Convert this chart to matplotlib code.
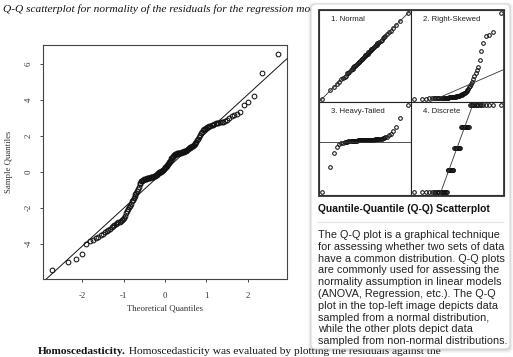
import matplotlib
matplotlib.use('Agg')
import matplotlib.pyplot as plt
import numpy as np
from statistics import NormalDist
from matplotlib.patches import FancyBboxPatch, Rectangle
from matplotlib.lines import Line2D
from matplotlib.transforms import IdentityTransform

W, H = 513, 357

# --- main Q-Q plot: sorted residuals (sample quantiles) ---
residuals = [
    -5.49, -5.01, -4.88, -4.58, -4.00, -3.83, -3.78, -3.70, -3.62, -3.52,
    -3.44, -3.37, -3.30, -3.22, -3.16, -3.08, -3.02, -2.96, -2.90, -2.85,
    -2.81, -2.77, -2.74, -2.70, -2.63, -2.55, -2.45, -2.30, -2.18, -2.05,
    -1.98, -1.88, -1.78, -1.65, -1.55, -1.45, -1.35, -1.26, -1.17, -1.07,
    -0.96, -0.82, -0.68, -0.60, -0.52, -0.49, -0.46, -0.44, -0.42, -0.41,
    -0.39, -0.38, -0.37, -0.35, -0.34, -0.33, -0.32, -0.31, -0.30, -0.29,
    -0.28, -0.27, -0.26, -0.24, -0.22, -0.19, -0.16, -0.12, -0.09, -0.06,
    -0.03, -0.01, 0.01, 0.03, 0.05, 0.08, 0.12, 0.16, 0.20,
    0.24, 0.29, 0.34, 0.40, 0.45, 0.50, 0.56, 0.62, 0.68, 0.74,
    0.79, 0.84, 0.88, 0.92, 0.95, 0.98, 1.00, 1.01, 1.02, 1.03,
    1.04, 1.05, 1.06, 1.07, 1.08, 1.09, 1.10, 1.12, 1.14, 1.16,
    1.18, 1.20, 1.23, 1.26, 1.30, 1.33, 1.36, 1.39, 1.42, 1.45,
    1.50, 1.56, 1.62, 1.68, 1.76, 1.85, 1.95, 2.05, 2.14, 2.24,
    2.32, 2.37, 2.41, 2.45, 2.48, 2.51, 2.54, 2.57, 2.60, 2.63,
    2.66, 2.69, 2.71, 2.73, 2.75, 2.77, 2.79, 2.82, 2.88, 3.00,
    3.08, 3.14, 3.22, 3.32, 3.70, 3.86, 4.21, 5.53, 6.58,
]
line_slope = 2.11
line_intercept = 0.08
x_ticks = [-2, -1, 0, 1, 2]
y_ticks = [-4, -2, 0, 2, 4, 6]

# --- inset panels ---
normal_sample = [
    -2.40, -1.93, -1.76, -1.55, -1.46, -1.30, -1.22, -1.18, -1.10, -0.98,
    -0.93, -0.90, -0.80, -0.74, -0.72, -0.64, -0.58, -0.56, -0.49, -0.44,
    -0.41, -0.35, -0.32, -0.26, -0.23, -0.18, -0.15, -0.09, -0.07, -0.01,
    0.03, 0.06, 0.11, 0.14, 0.20, 0.22, 0.28, 0.31, 0.37, 0.40,
    0.46, 0.49, 0.55, 0.61, 0.63, 0.71, 0.74, 0.80, 0.86, 0.92,
    0.99, 1.06, 1.14, 1.22, 1.33, 1.42, 1.57, 1.74, 1.95, 2.40,
]
normal_line = (1.0, 0.0)

skewed_sample = [
    0.37, 0.37, 0.38, 0.40, 0.40, 0.41, 0.41, 0.42, 0.42, 0.43,
    0.43, 0.44, 0.44, 0.45, 0.45, 0.46, 0.47, 0.47, 0.48, 0.49,
    0.50, 0.51, 0.52, 0.53, 0.54, 0.55, 0.57, 0.58, 0.60, 0.62,
    0.64, 0.66, 0.69, 0.72, 0.75, 0.79, 0.83, 0.88, 0.94, 1.01,
    1.09, 1.18, 1.30, 1.45, 1.60, 1.78, 1.98, 2.20, 2.45, 2.80,
    3.20, 3.50, 3.80, 4.60, 5.50, 6.40, 7.20, 7.30, 7.60, 9.63,
]
skewed_line = (0.851, 1.34)

heavy_sample = [
    3.7, 30.0, 45.0, 52.0, 54.5, 55.5, 56.2, 56.8, 57.2, 57.5,
    57.8, 58.0, 58.1, 58.2, 58.3, 58.4, 58.5, 58.5, 58.6, 58.6,
    58.7, 58.7, 58.8, 58.8, 58.8, 58.9, 58.9, 59.0, 59.0, 59.0,
    59.1, 59.1, 59.2, 59.2, 59.2, 59.3, 59.3, 59.4, 59.4, 59.5,
    59.5, 59.6, 59.7, 59.8, 59.9, 60.0, 60.1, 60.3, 60.5, 60.7,
    61.0, 61.4, 62.0, 62.8, 64.0, 66.0, 69.0, 73.0, 83.0, 96.3,
]
heavy_line = (0.0, 57.0)

discrete_levels = [1, 2, 3, 4, 5]
discrete_counts = [17, 8, 9, 11, 15]
discrete_line = (2.28, 3.09)

panel_titles = ['1. Normal', '2. Right-Skewed', '3. Heavy-Tailed', '4. Discrete']

fig_title = 'Q-Q scatterplot for normality of the residuals for the regression model.'
popup_title = 'Quantile-Quantile (Q-Q) Scatterplot'
popup_lines = [
    'The Q-Q plot is a graphical technique',
    'for assessing whether two sets of data',
    'have a common distribution. Q-Q plots',
    'are commonly used for assessing the',
    'normality assumption in linear models',
    '(ANOVA, Regression, etc.). The Q-Q',
    'plot in the top-left image depicts data',
    'sampled from a normal distribution,',
    'while the other plots depict data',
    'sampled from non-normal distributions.',
]
bottom_bold = 'Homoscedasticity.'
bottom_rest = ' Homoscedasticity was evaluated by plotting the residuals against the'


def qnorm_points(n):
    a = 3 / 8 if n <= 10 else 0.5
    nd = NormalDist()
    return np.array([nd.inv_cdf((i - a) / (n + 1 - 2 * a)) for i in range(1, n + 1)])


def r_lim(v):
    lo, hi = min(v), max(v)
    pad = 0.04 * (hi - lo)
    return lo - pad, hi + pad


def px_rect(x0, y0, x1, y1):
    return [x0 / W, 1 - y1 / H, (x1 - x0) / W, (y1 - y0) / H]


fig = plt.figure(figsize=(W / 100, H / 100), dpi=100)
fig.patch.set_facecolor('white')

serif = 'Liberation Serif'
sans = 'Liberation Sans'

# main plot
ax = fig.add_axes(px_rect(43, 45, 287, 279))
theo = qnorm_points(len(residuals))
ax.plot(theo, residuals, 'o', mfc='none', mec='#111111', ms=3.4, mew=0.75)
ax.axline((0, line_intercept), slope=line_slope, color='#111111', lw=0.7)
ax.set_xlim(r_lim(theo))
ax.set_ylim(r_lim(residuals))
ax.set_xticks(x_ticks)
ax.set_xticklabels([str(t) for t in x_ticks])
ax.set_yticks(y_ticks)
ax.set_yticklabels([str(t) for t in y_ticks], rotation=90, va='center')
for s in ax.spines.values():
    s.set_color('#444444')
    s.set_linewidth(0.8)
ax.tick_params(length=2.5, width=0.7, color='#444444', labelsize=6.3,
               labelcolor='#333333')
ax.tick_params(axis='x', pad=7)
ax.tick_params(axis='y', pad=5)
for lab in ax.get_xticklabels() + ax.get_yticklabels():
    lab.set_family(serif)
ax.set_xlabel('Theoretical Quantiles', family=serif, fontsize=6.3,
              color='#333333', labelpad=3)
ax.set_ylabel('Sample Quantiles', family=serif, fontsize=6.3,
              color='#333333', labelpad=8)

fig.text(3 / W, 1 - 9 / H, fig_title, family=serif, style='italic',
         fontsize=8.2, color='#111111', va='center', zorder=1)

# bottom paragraph start (partly under the popup)
renderer = fig.canvas.get_renderer()
t_bold = fig.text(38 / W, 1 - 351 / H, bottom_bold, family=serif,
                  weight='bold', fontsize=8.2, color='#111111',
                  va='center', zorder=1)
bb = t_bold.get_window_extent(renderer)
fig.text(bb.x1 / W, 1 - 351 / H, bottom_rest, family=serif, fontsize=8.2,
         color='#111111', va='center', zorder=1)

# popup card with soft shadow
for k, a in [(4, 0.03), (3, 0.04), (2, 0.05), (1, 0.06)]:
    fig.patches.append(FancyBboxPatch(
        (311 - k + 1, H - 349 - k), 199 + 2 * k - 2, 345 + 2 * k - 2,
        boxstyle='round,pad=0,rounding_size=5', transform=IdentityTransform(),
        facecolor='black', edgecolor='none', alpha=a, zorder=4, figure=fig))
fig.patches.append(FancyBboxPatch(
    (311, H - 349), 199, 345, boxstyle='round,pad=0,rounding_size=5',
    transform=IdentityTransform(), facecolor='white', edgecolor='#d8d8d8',
    lw=0.8, zorder=5, figure=fig))

# inset 2x2 grid of Q-Q plots
panels = [
    (normal_sample, normal_line, (319, 10, 411, 102)),
    (skewed_sample, skewed_line, (411, 10, 504, 102)),
    (heavy_sample, heavy_line, (319, 102, 411, 195)),
    (list(np.repeat(discrete_levels, discrete_counts)), discrete_line,
     (411, 102, 504, 195)),
]
for (sample, (slope, icpt), rect), title in zip(panels, panel_titles):
    iax = fig.add_axes(px_rect(*rect), zorder=6)
    q = qnorm_points(len(sample))
    iax.plot(q, sample, 'o', mfc='none', mec='#111111', ms=2.6, mew=0.75)
    iax.axline((0, icpt), slope=slope, color='#333333', lw=0.6)
    iax.set_xlim(r_lim(q))
    iax.set_ylim(r_lim(sample))
    iax.set_xticks([])
    iax.set_yticks([])
    for s in iax.spines.values():
        s.set_color('#222222')
        s.set_linewidth(0.8)
    iax.text(0.13, 0.9, title, transform=iax.transAxes, family=sans,
             fontsize=5.6, color='#222222', va='center', ha='left')

fig.patches.append(Rectangle((319, H - 196), 185, 186, transform=IdentityTransform(),
                             facecolor='none', edgecolor='#333333', lw=1.3,
                             zorder=7, figure=fig))

fig.text(318 / W, 1 - 209 / H, popup_title, family=sans, weight='bold',
         fontsize=7.4, color='#111111', va='center', zorder=8)
fig.lines.append(Line2D([318, 503], [H - 221.5, H - 221.5],
                        transform=IdentityTransform(), color='#e6e6e6',
                        lw=0.8, zorder=8, figure=fig))
for k, line in enumerate(popup_lines):
    fig.text(318 / W, 1 - (235 + 11.8 * k) / H, line, family=sans,
             fontsize=7.8, color='#222222', va='center', zorder=8)

fig.savefig('out.png', dpi=100, facecolor='white')
